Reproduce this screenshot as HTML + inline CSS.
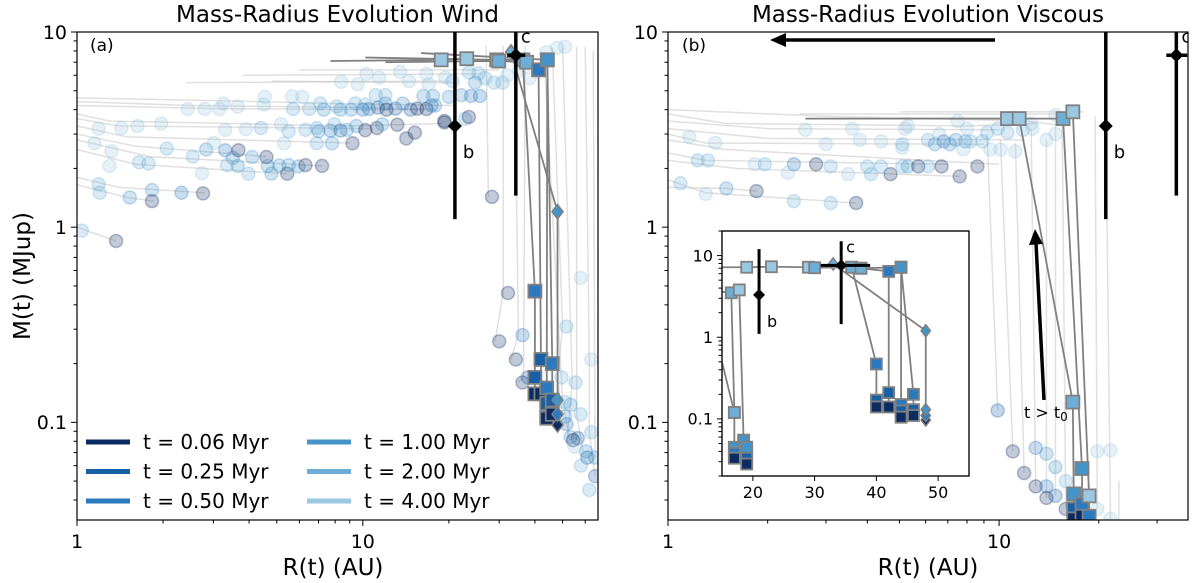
<!DOCTYPE html>
<html><head><meta charset="utf-8"><style>
body{margin:0;background:#fff;}
svg{display:block;font-family:"DejaVu Sans","Liberation Sans",sans-serif;}
</style></head><body>
<svg id="chart" width="1200" height="583" viewBox="0 0 1200 583" xmlns="http://www.w3.org/2000/svg">
<defs>
<clipPath id="clipL"><rect x="77" y="32" width="521" height="488"/></clipPath>
<clipPath id="clipR"><rect x="668" y="32" width="520" height="488"/></clipPath>
<clipPath id="clipI"><rect x="722" y="231" width="247" height="245"/></clipPath>
</defs>
<g id="root"></g>
</svg>
<script>
// ---------- data ----------
const timeLabels = ["t = 0.06 Myr","t = 0.25 Myr","t = 0.50 Myr","t = 1.00 Myr","t = 2.00 Myr","t = 4.00 Myr"];
const shadeColors = ["#0b2c63","#1760a6","#2b79bf","#4493c9","#6caed6","#9ac7e1"];
const xTicksLog = [1,10];
const yTicksLog = [0.1,1,10];
const yTickLabels = ["0.1","1","10"];
const insetXTicks = [20,30,40,50];
const planetB = [21,3.3];
const planetC = [34.3,7.6];
const windBgTracks = [
 [[1,4.6],[3,4.45],[8,4.3],[21,4.2]],
 [[1,4.4],[2.5,4.2],[10,4.1],[18,4.0]],
 [[1,4.2],[3,4.05],[16,4.0]],
 [[1,3.8],[1.3,3.5],[9,3.3],[19,3.4]],
 [[1,3.6],[1.4,3.3],[10.5,3.2]],
 [[1,3.3],[1.5,2.9],[9,2.7]],
 [[1,3.0],[1.6,2.6],[4.6,2.3]],
 [[1,2.8],[1.8,2.3],[7.2,2.06]],
 [[1,2.5],[1.6,2.1],[5.4,1.88]],
 [[1,1.8],[1.4,1.6],[2.8,1.5]],
 [[1,1.65],[1.5,1.42],[1.85,1.36]],
 [[1,1.0],[1.37,0.85]],
 [[4.8,5.6],[21,5.5]],[[3.8,6.0],[26,6.1]],[[2.4,5.5],[20,5.6]],[[6,6.4],[30,6.4]],
 [[27,8.5],[27.5,1.43]],[[31,8.5],[31,0.46],[29,0.26]],[[34,8.5],[35,0.28],[33,0.21]],
 [[37,8.5],[36.5,0.17],[35,0.16]],[[46,8.3],[50,0.31],[48,0.17],[50,0.107]],
 [[50,8.4],[54,0.16],[52,0.084]],[[56,8.4],[56,0.55],[56,0.11],[59,0.071]],
 [[60,8.4],[62,0.21],[62,0.089],[65,0.053]],[[43,7.9],[50,0.127],[53,0.081]],[[64,8],[65,0.066]]
];
const windCircles = [
 [1.04,0.96,4],[1.37,0.85,0],[1.19,1.66,4],[1.2,1.5,4],[1.53,1.42,3],[1.83,1.55,3],[1.83,1.36,0],[2.32,1.5,2],[2.76,1.49,0],
 [1.15,2.69,5],[1.32,2.45,5],[1.3,2.06,5],[1.65,2.15,4],[1.78,2.12,4],[2.06,2.53,4],[2.54,2.3,4],[2.74,1.89,5],[2.83,2.5,3],
 [3.01,2.7,5],[3.3,2.48,2],[3.51,2.27,3],[3.67,2.48,0],[3.35,2.08,4],[3.65,2.06,3],[3.98,1.88,4],[4.1,2.29,3],[4.6,2.29,0],
 [4.65,2.06,3],[4.79,1.88,3],[5.1,2.07,3],[5.44,1.88,0],[5.5,2.08,3],[5.95,2.05,3],[6.3,2.08,0],[7.2,2.06,0],[5.3,2.69,5],
 [6.9,2.69,4],[7.8,2.69,3],[9.2,2.69,0],[1.19,3.2,5],[1.43,3.22,5],[1.63,3.3,5],[1.97,3.4,5],[3.3,3.15,5],[3.9,3.18,5],
 [4.4,3.22,4],[5.17,3.37,5],[5.5,3.1,4],[6.3,3.15,4],[6.9,3.22,4],[7.0,3.1,3],[7.7,3.13,2],[7.95,3.37,4],[8.35,3.13,1],
 [8.8,3.15,3],[9.5,3.3,3],[10.2,3.14,0],[11.2,3.22,0],[11.7,3.37,3],[13.2,3.35,0],[14.2,2.85,0],[15.2,3.05,0],[19.3,3.44,0],
 [2.44,4.03,5],[2.8,4.03,5],[3.15,4.03,5],[3.25,4.3,5],[3.65,4.15,5],[4.54,4.65,5],[4.5,4.25,5],[5.66,4.68,5],[6.14,4.65,5],
 [5.7,4.03,4],[6.5,4.03,4],[7.1,4.3,4],[7.3,4.0,3],[8.1,4.15,4],[8.35,4.0,3],[9.1,4.0,3],[9.4,4.3,4],[10.2,4.25,4],[10.0,4.0,2],
 [10.5,4.03,2],[11.1,4.75,4],[11.3,4.1,1],[12.0,4.75,4],[12.0,4.3,3],[12.1,4.0,0],[13.0,4.05,1],[13.8,4.3,3],[14.7,4.0,1],
 [15.5,4.05,0],[16.3,4.7,3],[16.7,4.03,0],[17.4,4.2,2],[17.9,4.2,3],[17.6,4.7,3],[20.0,4.65,3],[22.1,4.75,3],[22.8,3.6,4],
 [8.4,5.56,5],[9.6,5.4,5],[10.3,6.1,5],[11.4,5.85,5],[13.5,6.25,5],[14.5,5.6,5],[16.7,6.1,5],[17.0,5.4,5],[19.4,5.85,5],[20.6,5.6,4],
 [23.5,6.2,4],[25.4,6.15,4],[26.8,5.8,4],[28.8,5.5,4],[30.8,5.5,4],[32.0,6.0,5],[35.2,6.4,5],[38.3,5.8,5],[43.9,7.9,5],[47.8,8.3,5],[51,8.4,5],
 [24.7,5.5,3],[23.9,4.7,2],[25.7,4.7,2],[19.3,3.5,0],[23.5,3.67,0],[28.3,1.43,0],
 [32.2,0.46,0],[30.0,0.26,0],[36.2,0.28,2],[34.3,0.21,0],[36.2,0.16,0],[37.8,0.17,1],[51.6,0.31,4],[57.8,0.55,5],[63,0.21,5],
 [49.6,0.17,4],[55.5,0.16,4],[51,0.127,4],[53.3,0.123,3],[57.8,0.11,4],[51,0.107,3],[51.6,0.098,2],[53.3,0.084,3],[56.5,0.083,1],
 [54.4,0.081,0],[63,0.089,4],[60.4,0.071,3],[61,0.066,1],[65,0.066,3],[65,0.053,1],[58,0.06,4],[62,0.045,4],[55,0.075,5]
];
const windTracks = [
 [[7.7,7.1,-1],[18.8,7.2,5],[23.1,7.3,5]],
 [[10.2,7.4,-1],[29.4,7.2,5],[36.3,7.2,4],[40,0.47,2],[40,0.17,1],[40,0.14,0]],
 [[12,7.0,-1],[29.9,7.1,4],[37.4,7.0,4],[41.2,6.4,2],[42,0.21,1],[42,0.14,0]],
 [[16,7.8,-1],[44.2,7.2,3],[44,0.15,2],[44,0.125,1],[44,0.105,0]],
 [[44.2,7.2,3],[46,0.2,2],[46,0.13,1],[46,0.11,0]]
];
const windDiamond = [[33,7.9,4],[48,1.2,3],[48,0.13,3],[48,0.11,2],[48,0.097,0]];
const viscBgTracks = [
 [[1,4.0],[3,3.7],[12,3.5],[16,3.3]],[[1,3.8],[1.5,3.4],[8,3.3],[13,3.4]],[[1,3.5],[2,3.2],[10,3.15]],
 [[1,3.2],[2,2.85],[12,2.8]],[[1,3.0],[1.3,2.7],[9,2.66]],[[1,2.8],[1.5,2.5],[10,2.1]],[[1,2.4],[1.3,2.2],[7,2.1]],
 [[1,2.2],[1.6,2.0],[7.6,1.82]],[[1,1.75],[1.3,1.5],[3.7,1.33]],[[1,1.6],[1.5,1.58],[1.85,1.53]],
 [[2.5,3.8],[16,3.8]],[[5,3.9],[18,3.9]],
 [[9.2,3.0],[9.9,0.115]],[[10.1,2.8],[11.0,0.071]],[[11.2,2.7],[11.9,0.055]],[[12.5,3.2],[12.9,0.047]],
 [[13.9,2.8],[13.9,0.041]],[[14.8,3.4],[14.8,0.042]],[[15.5,3.6],[15.9,0.036]],[[19.5,3.7],[19.8,0.036]],
 [[21,3.9],[21.7,0.032]],[[23,0.05],[23,0.03]]
];
const viscCircles = [
 [1.16,2.9,5],[1.39,2.7,5],[1.23,2.2,4],[1.32,2.2,4],[1.09,1.68,4],[1.3,1.48,5],[1.5,1.58,3],[1.85,1.53,0],[2.4,1.36,4],
 [3.1,1.33,4],[3.7,1.33,0],[1.83,2.1,5],[1.96,2.1,4],[2.4,2.1,2],[2.8,2.1,0],[3.1,2.05,4],[2.3,1.9,5],[3.5,1.87,5],[4.1,1.87,4],
 [4.7,1.87,0],[4.0,2.05,4],[4.4,2.05,4],[5.1,2.05,4],[5.3,2.05,3],[5.7,2.05,0],[6.1,2.05,4],[6.7,2.05,0],[7.6,1.82,0],[8.6,2.05,0],
 [2.6,3.15,5],[3.6,3.2,5],[3.8,2.8,5],[3.0,2.66,5],[5.2,3.2,5],[5.3,3.3,5],[4.4,2.75,5],[5.1,2.66,4],[5.1,2.55,5],[6.1,2.8,4],
 [6.4,2.66,3],[6.6,3.0,5],[6.8,2.75,2],[7.1,2.66,3],[7.4,2.8,3],[7.9,2.75,3],[8.2,2.75,4],[7.8,2.5,5],[7.5,3.5,5],[8.0,3.2,5],
 [8.9,2.75,4],[9.2,3.05,4],[9.4,2.5,5],[10.1,2.5,5],[9.9,3.2,4],[10.6,3.05,4],[11.2,2.45,5],[11.8,3.15,4],[12.5,3.4,5],[12.6,3.2,5],
 [13.9,2.8,5],[14.8,3.0,5],[14.8,3.75,5],
 [9.9,0.115,1],[11.0,0.071,0],[12.9,0.074,2],[13.9,0.069,3],[11.9,0.055,0],[14.8,0.059,3],[15.9,0.05,4],[12.9,0.047,0],
 [13.9,0.047,2],[13.9,0.041,0],[14.8,0.042,1],[15.9,0.036,0],[19.8,0.071,5],[21.7,0.072,5],[19.8,0.036,5],[21.7,0.032,5]
];
const viscTracks = [
 [[2.6,3.6,-1],[10.6,3.6,5],[11.5,3.6,5],[16.7,0.127,4],[16.8,0.043,3],[16.8,0.036,1],[16.8,0.032,0]],
 [[5,3.6,-1],[15.6,3.6,4],[17.8,0.058,3],[17.8,0.038,2],[17.8,0.033,0]],
 [[16.7,3.9,5],[18.7,0.042,5],[18.7,0.033,2]]
];
const insetTracks = [
 [[15,7.2,-1],[19,7.2,5],[23,7.3,5],[29,7.2,5],[30,7.1,4],[36,7.2,4],[37.5,7.0,4],[44,7.2,3]],
 [[36,7.2,4],[40,0.47,2],[40,0.17,1],[40,0.14,0]],
 [[37.5,7.0,4],[42,6.4,2],[42,0.21,1],[42,0.14,0]],
 [[44,7.2,3],[44,0.15,2],[44,0.125,1],[44,0.105,0]],
 [[44,7.2,3],[46,0.2,2],[46,0.13,1],[46,0.11,0]],
 [[15,3.6,-1],[16.5,3.5,4],[17,0.12,4],[17,0.045,3],[17,0.038,2],[17,0.033,0]],
 [[17.8,3.8,5],[18.5,0.055,3],[19,0.045,3],[19,0.033,1],[19,0.028,0]],
 [[15,0.5,-1],[17,0.12,4]]
];
const insetDiamond = [[33,7.9,4],[48,1.2,3],[48,0.13,3],[48,0.11,2],[48,0.097,0]];

// ---------- scales ----------
const L={x0:77,x1:598,y0:32,y1:520,rmin:1,rmax:66.5,mmin:0.0316,mmax:10};
const R={x0:668,x1:1188,y0:32,y1:520,rmin:1,rmax:37.2,mmin:0.0316,mmax:10};
const I={x0:722,x1:969,y0:231,y1:476,rmin:15,rmax:55,mmin:0.02,mmax:20};
function xLog(p,v){return p.x0+(Math.log10(v)-Math.log10(p.rmin))/(Math.log10(p.rmax)-Math.log10(p.rmin))*(p.x1-p.x0);}
function xLin(p,v){return p.x0+(v-p.rmin)/(p.rmax-p.rmin)*(p.x1-p.x0);}
function yLog(p,v){return p.y1-(Math.log10(v)-Math.log10(p.mmin))/(Math.log10(p.mmax)-Math.log10(p.mmin))*(p.y1-p.y0);}

const NS="http://www.w3.org/2000/svg";
const root=document.getElementById('root');
function mk(tag,attrs,parent){const e=document.createElementNS(NS,tag);for(const k in attrs)e.setAttribute(k,attrs[k]);(parent||root).appendChild(e);return e;}
function txt(s,x,y,size,anchor,parent){const t=mk('text',{x:x,y:y,'font-size':size,'text-anchor':anchor||'middle',fill:'#000'},parent);t.textContent=s;return t;}

function drawPanel(p,name,bg,circles,xf,clip){
  const g=mk('g',{});
  
  
  const cg=mk('g',{'clip-path':'url(#'+clip+')'},g);
  bg.forEach(tr=>{
    const pl=mk('polyline',{points:tr.map(q=>xf(p,q[0])+','+yLog(p,q[1])).join(' '),fill:'none',stroke:'#bbb','stroke-opacity':0.45,'stroke-width':1.5},cg);
    
    
  });
  circles.forEach(c=>{
    const col=shadeColors[c[2]];
    const e=mk('circle',{cx:xf(p,c[0]),cy:yLog(p,c[1]),r:6.5,fill:col,'fill-opacity':0.25,stroke:col,'stroke-opacity':0.3,'stroke-width':1.5},cg);
    
    
  });
  return {g,cg};
}
function drawTracks(p,cg,tracks,diamond,xf,sq){
  tracks.forEach(tr=>{
    const pl=mk('polyline',{points:tr.map(q=>xf(p,q[0])+','+yLog(p,q[1])).join(' '),fill:'none',stroke:'#808080','stroke-width':1.8},cg);
    
    
  });
  tracks.forEach(tr=>tr.forEach(q=>{ if(q[2]<0)return;
    const e=mk('rect',{x:xf(p,q[0])-sq,y:yLog(p,q[1])-sq,width:2*sq,height:2*sq,fill:shadeColors[q[2]],stroke:'#808080','stroke-width':1.8},cg);
    
    
  }));
  if(diamond){
    const pl=mk('polyline',{points:diamond.map(q=>xf(p,q[0])+','+yLog(p,q[1])).join(' '),fill:'none',stroke:'#808080','stroke-width':1.8},cg);
    
    
    diamond.slice().reverse().forEach(q=>{const x=xf(p,q[0]),y=yLog(p,q[1]),s=sq*0.85;
      const e=mk('polygon',{points:`${x},${y-s*1.3} ${x+s},${y} ${x},${y+s*1.3} ${x-s},${y}`,fill:shadeColors[q[2]],stroke:'#808080','stroke-width':1.5},cg);
      
      
    });
  }
}
function drawPlanet(p,cg,pt,lbl,xf,mlo,mhi,rlo,rhi,lw,ms,fs){
  const x=xf(p,pt[0]),y=yLog(p,pt[1]);
  const g=mk('g',{},cg);
  
  
  mk('line',{x1:x,x2:x,y1:yLog(p,mhi),y2:yLog(p,mlo),stroke:'#000','stroke-width':lw},g);
  mk('line',{x1:xf(p,rlo),x2:xf(p,rhi),y1:y,y2:y,stroke:'#000','stroke-width':lw},g);
  mk('polygon',{points:`${x},${y-ms} ${x+ms},${y} ${x},${y+ms} ${x-ms},${y}`,fill:'#000'},g);
  txt(lbl,lbl==='b'?x+8:x+5,lbl==='b'?y+32:y-13,fs,'start',g);
}
function axes(p,name){
  const g=mk('g',{});
  
  
  mk('rect',{x:p.x0,y:p.y0,width:p.x1-p.x0,height:p.y1-p.y0,fill:'none',stroke:'#000','stroke-width':1.2},g);
  return g;
}
function logTicks(p,g,fs){
  for(let d=Math.floor(Math.log10(p.rmin));d<=Math.ceil(Math.log10(p.rmax));d++){
    for(let k=1;k<10;k++){const v=k*Math.pow(10,d); if(v<p.rmin||v>p.rmax)continue;
      const x=xLog(p,v); mk('line',{x1:x,x2:x,y1:p.y1,y2:p.y1+(k===1?6:3.5),stroke:'#000','stroke-width':1},g);}
  }
  xTicksLog.forEach(v=>{ if(v<=p.rmax) txt(String(v),xLog(p,v),p.y1+28,fs,'middle',g);});
  logYTicks(p,g,fs,6);
}
function logYTicks(p,g,fs,len){
  for(let d=-2;d<=1;d++)for(let k=1;k<10;k++){const v=k*Math.pow(10,d); if(v<p.mmin||v>p.mmax)continue;
    const y=yLog(p,v); mk('line',{x1:p.x0,x2:p.x0-(k===1?len:3.5),y1:y,y2:y,stroke:'#000','stroke-width':1},g);}
  yTicksLog.forEach((v,i)=>txt(yTickLabels[i],p.x0-(len+4),yLog(p,v)+fs*0.36,fs,'end',g));
}

// Left panel
let P=drawPanel(L,'wind-panel',windBgTracks,windCircles,xLog,'clipL');
drawTracks(L,P.cg,windTracks,windDiamond,xLog,6.5);
drawPlanet(L,P.cg,planetB,'b',xLog,1.1,12,20.3,21.7,3.5,7,18);
drawPlanet(L,P.cg,planetC,'c',xLog,1.45,12,32,37,3.5,7,18);
let ax=axes(L,'wind-axes');
logTicks(L,ax,19);
txt('Mass-Radius Evolution Wind',337.5,22,23,'middle');
txt('(a)',90,51,17,'start');
txt('R(t) (AU)',333,575,23,'middle');
const yl=txt('M(t) (MJup)',0,0,23,'middle'); yl.setAttribute('transform','translate(30,276) rotate(-90)');

timeLabels.forEach((s,i)=>{
  const col=i<3?0:1,row=i%3;
  const x=col? 307:86, y=442+row*29.5;
  const g=mk('g',{});
  
  
  mk('line',{x1:x,x2:x+44,y1:y,y2:y,stroke:shadeColors[i],'stroke-width':5},g);
  txt(s,x+57,y+7,20,'start',g);
});

// Right panel
P=drawPanel(R,'viscous-panel',viscBgTracks,viscCircles,xLog,'clipR');
drawTracks(R,P.cg,viscTracks,null,xLog,6.5);
drawPlanet(R,P.cg,planetB,'b',xLog,1.1,12,20.3,21.7,3.5,7,18);
drawPlanet(R,P.cg,planetC,'c',xLog,1.45,12,32,37,3.5,7,18);
ax=axes(R,'viscous-axes');
logTicks(R,ax,19);
txt('Mass-Radius Evolution Viscous',928,22,23,'middle');
txt('(b)',682,51,17,'start');
txt('R(t) (AU)',928,575,23,'middle');
let ag=mk('g',{});  
mk('line',{x1:995,y1:40,x2:785,y2:40,stroke:'#000','stroke-width':3.5},ag);
mk('polygon',{points:'770,40 786,33 786,47',fill:'#000'},ag);
ag=mk('g',{});  
mk('line',{x1:1044,y1:400,x2:1036,y2:243,stroke:'#000','stroke-width':3.5},ag);
mk('polygon',{points:'1035,229 1029,245 1043,244',fill:'#000'},ag);
const tl=mk('text',{x:1024,y:418,'font-size':16,fill:'#000'}); tl.innerHTML='t &gt; t<tspan font-size="12" dy="3">0</tspan>';


// Inset
const ib=mk('rect',{x:I.x0,y:I.y0,width:I.x1-I.x0,height:I.y1-I.y0,fill:'#fff',stroke:'#000','stroke-width':1.2});
 
const icg=mk('g',{'clip-path':'url(#clipI)'});
 
drawTracks(I,icg,insetTracks,insetDiamond,xLin,5.5);
drawPlanet(I,icg,planetB,'b',xLin,1.1,12,20.3,21.7,3,6,16);
drawPlanet(I,icg,planetC,'c',xLin,1.45,15,31,39,3,6,16);
const ig=axes(I,'inset-axes');
insetXTicks.forEach(v=>{const x=xLin(I,v);mk('line',{x1:x,x2:x,y1:I.y1,y2:I.y1+5,stroke:'#000'},ig);txt(String(v),x,I.y1+22,16,'middle',ig);});
logYTicks(I,ig,16,5);
</script>
</body></html>
